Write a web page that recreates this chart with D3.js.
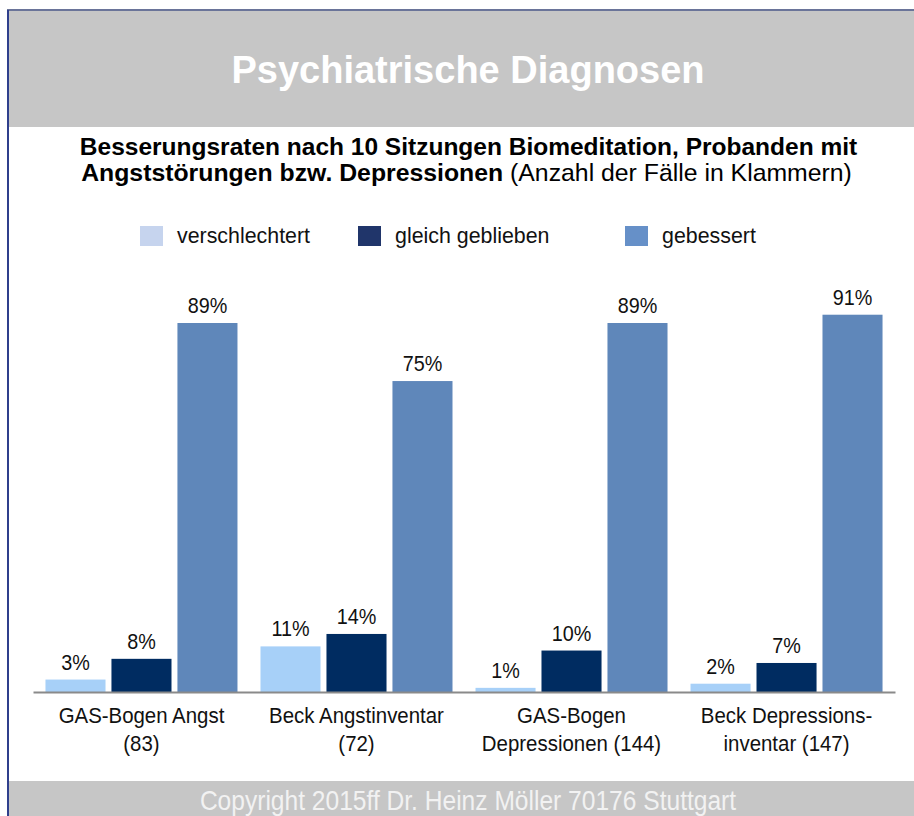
<!DOCTYPE html>
<html>
<head>
<meta charset="utf-8">
<script src="https://cdn.jsdelivr.net/npm/d3@7"></script>
<style>
  html, body { margin: 0; padding: 0; background: #fff; }
  svg text { font-family: "Liberation Sans", Arial, Helvetica, sans-serif; }
</style>
</head>
<body>
<div id="chart"></div>
<script>
// data
const categories = [
  ["GAS-Bogen Angst", "(83)"],
  ["Beck Angstinventar", "(72)"],
  ["GAS-Bogen", "Depressionen (144)"],
  ["Beck Depressions-", "inventar (147)"]
];
const seriesNames = ["verschlechtert", "gleich geblieben", "gebessert"];
const verschlechtert = [3, 11, 1, 2];
const gleichGeblieben = [8, 14, 10, 7];
const gebessert = [89, 75, 89, 91];
const seriesValues = [verschlechtert, gleichGeblieben, gebessert];

const barColors = ["#a7d0f8", "#002c61", "#5f87ba"];
const legendColors = ["#c6d4ee", "#20356a", "#6690c8"];

const width = 914, height = 816;
const squeeze = 0.9; // the original font is a bit narrower than Liberation Sans

const svg = d3.select("#chart").append("svg")
  .attr("width", width)
  .attr("height", height);

// helper for text, optionally condensed horizontally
function addText(parent, x, y, str, sx = squeeze) {
  return parent.append("text")
    .attr("transform", `translate(${x},${y}) scale(${sx},1)`)
    .attr("text-anchor", "middle")
    .text(str);
}

// frame + header band
svg.append("rect").attr("x", 8).attr("y", 11).attr("width", width - 8).attr("height", 116).attr("fill", "#c6c6c6");
svg.append("rect").attr("x", 8).attr("y", 781).attr("width", width - 8).attr("height", 35).attr("fill", "#c6c6c6");
svg.append("line").attr("x1", 7).attr("x2", width).attr("y1", 10).attr("y2", 10)
  .attr("stroke", "#6a7499").attr("stroke-width", 2);
svg.append("line").attr("x1", 8).attr("x2", 8).attr("y1", 10).attr("y2", height)
  .attr("stroke", "#2f3f8c").attr("stroke-width", 2);

addText(svg, 468, 83, "Psychiatrische Diagnosen", 1)
  .attr("fill", "#fff").attr("font-weight", "bold").attr("font-size", 38);

// subtitle
addText(svg, 468.5, 155, "Besserungsraten nach 10 Sitzungen Biomeditation, Probanden mit", 1)
  .attr("font-weight", "bold").attr("font-size", 24.5).attr("fill", "#000");
const sub2 = addText(svg, 466.5, 181, null, 1).attr("font-size", 24.8).attr("fill", "#000");
sub2.append("tspan").attr("font-weight", "bold").text("Angststörungen bzw. Depressionen");
sub2.append("tspan").text(" (Anzahl der Fälle in Klammern)");

// legend
const legendX = [140, 358, 625];
const legend = svg.append("g");
seriesNames.forEach((name, i) => {
  legend.append("rect")
    .attr("x", legendX[i]).attr("y", 226)
    .attr("width", 23).attr("height", 20)
    .attr("fill", legendColors[i]);
  legend.append("text")
    .attr("transform", `translate(${legendX[i] + 37},243) scale(0.93,1)`)
    .attr("font-size", 23)
    .attr("fill", "#111")
    .text(name);
});

// scales
const x0 = d3.scaleBand()
  .domain(d3.range(categories.length))
  .range([33, 895])
  .paddingInner(0.107)
  .paddingOuter(0.058);

const x1 = d3.scaleBand()
  .domain(d3.range(seriesNames.length))
  .range([0, x0.bandwidth()])
  .paddingInner(0.09);

const y = d3.scaleLinear()
  .domain([0, 100])
  .range([692, 277.4]);

// bars
const groups = svg.selectAll(".group")
  .data(categories)
  .enter()
  .append("g")
  .attr("class", "group")
  .attr("transform", (d, i) => `translate(${x0(i)},0)`);

groups.each(function(cat, ci) {
  const g = d3.select(this);
  seriesValues.forEach((vals, si) => {
    g.append("rect")
      .attr("x", x1(si))
      .attr("y", y(vals[ci]))
      .attr("width", x1.bandwidth())
      .attr("height", y(0) - y(vals[ci]))
      .attr("fill", barColors[si]);
    addText(g, x1(si) + x1.bandwidth() / 2, y(vals[ci]) - 10, vals[ci] + "%")
      .attr("font-size", 22).attr("fill", "#111");
  });
  cat.forEach((line, li) => {
    addText(g, x0.bandwidth() / 2, 723 + li * 28, line)
      .attr("font-size", 22.7).attr("fill", "#111");
  });
});

// x axis line
const xAxis = d3.axisBottom(x0).tickSize(0).tickFormat("");
svg.append("g")
  .attr("transform", `translate(0,${y(0)})`)
  .call(xAxis)
  .call(g => g.select(".domain").attr("stroke", "#8a8a8a").attr("stroke-width", 2));

// footer
addText(svg, 468, 810, "Copyright 2015ff Dr. Heinz Möller 70176 Stuttgart")
  .attr("font-size", 27.3).attr("fill", "#f2f2f2");
</script>
</body>
</html>
